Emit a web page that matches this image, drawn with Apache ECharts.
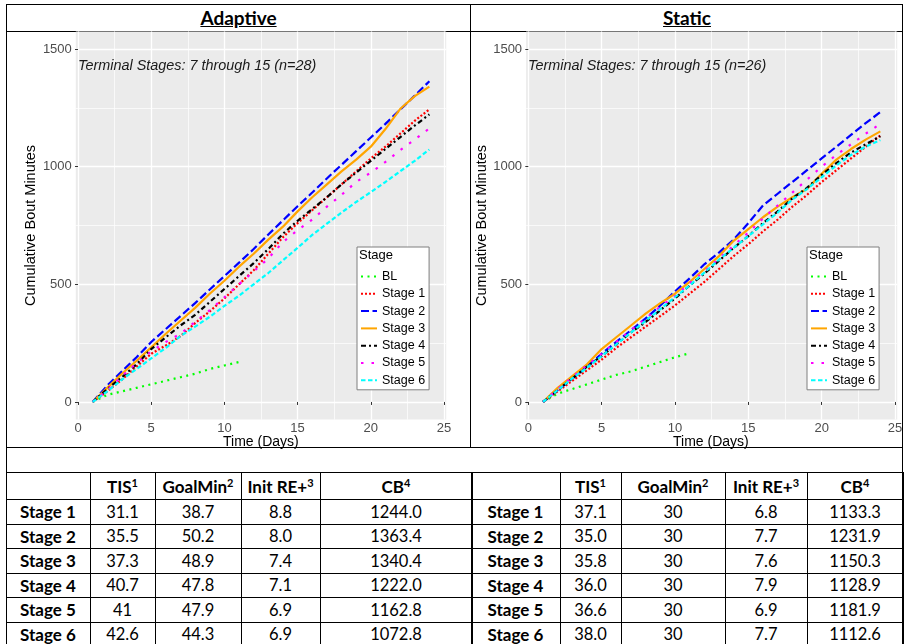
<!DOCTYPE html>
<html><head><meta charset="utf-8">
<script src="https://cdn.jsdelivr.net/npm/echarts@6/dist/echarts.min.js"></script>
<style>
html,body{margin:0;padding:0;background:#fff;}
#wrap{position:relative;width:904px;height:644px;overflow:hidden;background:#fff;}
.ln{position:absolute;background:#000;}
.hd{position:absolute;top:4px;height:27px;line-height:28px;text-align:center;font-family:Lato,'Liberation Sans',sans-serif;font-weight:bold;font-size:19px;text-decoration:underline;color:#000;}
#chart{position:absolute;left:0;top:0;width:904px;height:452px;}
table.tb{position:absolute;top:472px;border-collapse:collapse;table-layout:fixed;font-family:Lato,'Liberation Sans',sans-serif;color:#000;}
table.tb td{border:1.3px solid #000;text-align:center;padding:0;font-size:16.5px;white-space:nowrap;overflow:hidden;}
table.tb td.b{font-weight:bold;font-size:17px;}
table.tb sup{font-size:11px;line-height:0;vertical-align:6px;}
</style></head>
<body><div id="wrap">
<div class="ln" style="left:6px;top:4px;width:897px;height:1.3px"></div>
<div class="ln" style="left:6px;top:31px;width:897px;height:1.3px"></div>
<div class="ln" style="left:5.5px;top:4px;width:1.3px;height:640px"></div>
<div class="ln" style="left:902px;top:4px;width:1.3px;height:640px"></div>
<div class="ln" style="left:470px;top:4px;width:1.3px;height:443px"></div>
<div class="ln" style="left:6px;top:446.5px;width:897px;height:1.3px"></div>
<div class="hd" style="left:6px;width:465px">Adaptive</div>
<div class="hd" style="left:471px;width:432px">Static</div>
<div id="chart"></div>
<table class="tb" id="tA" style="left:5.5px;width:466px"></table>
<table class="tb" id="tS" style="left:470.5px;width:432.5px"></table>
</div>
<script>
// ---------- data ----------
const DAYS = [1,2,3,4,5,6,7,8,9,10,11,12,13,14,15,16,17,18,19,20,21,22,23,24];
const BL_DAYS = [1,2,3,4,5,6,7,8,9,10,11];
const STAGE_NAMES = ['BL','Stage 1','Stage 2','Stage 3','Stage 4','Stage 5','Stage 6'];

const A_BL = [0,30,45,60,75,90,105,120,140,155,170];
const A_S1 = [0,45,95,150,205,240,280,335,385,440,500,560,630,700,760,815,870,925,980,1035,1085,1140,1195,1244];
const A_S2 = [0,70,130,190,255,310,365,420,478,535,592,650,712,772,832,890,950,1008,1066,1124,1182,1242,1302,1363];
const A_S3 = [0,60,120,175,232,290,345,400,460,515,575,630,690,745,810,870,925,980,1030,1085,1160,1245,1300,1340];
const A_S4 = [0,55,105,160,225,275,325,370,425,480,535,590,650,715,770,820,870,925,975,1025,1075,1125,1175,1222];
const A_S5 = [0,50,110,165,215,255,290,340,390,445,500,555,610,680,730,775,830,880,935,975,1020,1070,1115,1163];
const A_S6 = [0,45,95,140,185,230,280,320,362,408,452,500,548,602,655,710,758,805,850,892,935,980,1025,1073];

const S_BL = [0,35,55,75,95,115,130,150,170,190,207];
const S_S1 = [0,45,90,135,180,230,275,320,365,410,460,510,565,620,670,725,775,830,880,935,985,1035,1085,1133];
const S_S2 = [0,50,100,150,205,255,305,355,410,470,525,585,635,690,760,835,885,935,985,1035,1085,1135,1185,1232];
const S_S3 = [0,60,110,160,225,275,325,375,420,460,510,565,620,685,735,785,830,870,905,970,1030,1075,1115,1150];
const S_S4 = [0,50,100,150,195,245,295,340,390,440,495,545,600,655,705,760,810,865,910,965,1015,1060,1095,1129];
const S_S5 = [0,55,105,155,205,255,305,355,405,450,505,555,610,665,720,780,835,890,945,1000,1050,1095,1140,1182];
const S_S6 = [0,50,100,145,195,245,295,345,395,445,495,550,605,655,705,755,805,860,905,955,1005,1050,1085,1113];

const X_TICKS = [0,5,10,15,20,25];
const X_MINOR = [2.5,7.5,12.5,17.5,22.5];
const Y_TICKS = [0,500,1000,1500];
const Y_MINOR = [250,750,1250];

const ANNOT_A = 'Terminal Stages: 7 through 15 (n=28)';
const ANNOT_S = 'Terminal Stages: 7 through 15 (n=26)';
const X_TITLE = 'Time (Days)';
const Y_TITLE = 'Cumulative Bout Minutes';

// table data
const TBL_HEAD = ['TIS','GoalMin','Init RE+','CB'];
const TBL_SUP = ['1','2','3','4'];
const TBL_ROWS = ['Stage 1','Stage 2','Stage 3','Stage 4','Stage 5','Stage 6'];
const A_TIS = ['31.1','35.5','37.3','40.7','41','42.6'];
const A_GOAL = ['38.7','50.2','48.9','47.8','47.9','44.3'];
const A_INIT = ['8.8','8.0','7.4','7.1','6.9','6.9'];
const A_CB = ['1244.0','1363.4','1340.4','1222.0','1162.8','1072.8'];
const S_TIS = ['37.1','35.0','35.8','36.0','36.6','38.0'];
const S_GOAL = ['30','30','30','30','30','30'];
const S_INIT = ['6.8','7.7','7.6','7.9','6.9','7.7'];
const S_CB = ['1133.3','1231.9','1150.3','1128.9','1181.9','1112.6'];

// ---------- tables ----------
function buildTable(id, widths, cols){
  const t = document.getElementById(id);
  let h = '<colgroup>' + widths.map(w=>'<col style="width:'+w+'px">').join('') + '</colgroup>';
  h += '<tr style="height:27px"><td></td>' + TBL_HEAD.map((s,i)=>'<td class="b">'+s+'<sup>'+TBL_SUP[i]+'</sup></td>').join('') + '</tr>';
  TBL_ROWS.forEach((r,i)=>{
    h += '<tr style="height:24.5px"><td class="b">'+r+'</td>' + cols.map(c=>'<td>'+c[i]+'</td>').join('') + '</tr>';
  });
  t.innerHTML = h;
}
buildTable('tA',[84,65,86,79,152],[A_TIS,A_GOAL,A_INIT,A_CB]);
buildTable('tS',[89,61,104,82,96],[S_TIS,S_GOAL,S_INIT,S_CB]);

// ---------- chart ----------
const STYLES = {
  'BL':     {color:'#00ff00', type:[2,4.5]},
  'Stage 1':{color:'#ff0000', type:[2,2]},
  'Stage 2':{color:'#0000ff', type:[8,3.5]},
  'Stage 3':{color:'#ffa500', type:'solid'},
  'Stage 4':{color:'#000000', type:[5,3,2,3]},
  'Stage 5':{color:'#ff00ff', type:[2.5,8]},
  'Stage 6':{color:'#00ffff', type:[4.5,2.5]}
};
const FONT = "'Liberation Sans', Arial, sans-serif";
const PANEL = '#ebebeb';
const GRIDC = '#ffffff';

function minorGrid(){
  return {
    symbol:['none','none'], label:{show:false}, silent:true, z:1,
    lineStyle:{color:GRIDC, width:0.7, type:'solid'},
    data: X_MINOR.map(v=>({xAxis:v})).concat(Y_MINOR.map(v=>({yAxis:v})))
  };
}
function lineSeries(name, xs, vals, gi){
  const st = STYLES[name];
  const s = {
    name, type:'line', xAxisIndex:gi, yAxisIndex:gi, z:3,
    data: vals.map((v,i)=>[xs[i], v]),
    symbol:'none', showSymbol:false, smooth:false,
    lineStyle:{color:st.color, width:2.2, type:st.type, cap:'butt'},
    itemStyle:{color:st.color},
    silent:true
  };
  if (name === 'BL') s.markLine = minorGrid();
  return s;
}
function xAxis(gi){
  return {
    type:'value', gridIndex:gi, min:-0.15, max:25.15,
    axisLine:{show:false},
    splitLine:{show:true, lineStyle:{color:GRIDC, width:1.3}},
    axisTick:{show:true, length:3, lineStyle:{color:'#333', width:1}, customValues:X_TICKS},
    axisLabel:{fontFamily:FONT, fontSize:13, color:'#4d4d4d', margin:2, customValues:X_TICKS, formatter:v=>String(v)}
  };
}
function yAxis(gi){
  return {
    type:'value', gridIndex:gi, min:-75, max:1575,
    name:Y_TITLE, nameLocation:'middle', nameGap:33,
    nameTextStyle:{fontFamily:FONT, fontSize:14.5, color:'#000'},
    axisLine:{show:false},
    splitLine:{show:true, lineStyle:{color:GRIDC, width:1.3}},
    axisTick:{show:true, length:3, lineStyle:{color:'#333', width:1}, customValues:Y_TICKS},
    axisLabel:{fontFamily:FONT, fontSize:13, color:'#4d4d4d', margin:4, customValues:Y_TICKS, formatter:v=>String(v)}
  };
}
function legend(left){
  return {
    left, top:247, orient:'vertical', data:STAGE_NAMES,
    padding:[23,4,3,3], itemWidth:16, itemHeight:14, itemGap:4.3,
    backgroundColor:'#ffffff', borderColor:'#7f7f7f', borderWidth:1,
    itemStyle:{opacity:0},
    textStyle:{fontFamily:FONT, fontSize:12.5, color:'#000'},
    selectedMode:false
  };
}
const chart = echarts.init(document.getElementById('chart'), null, {renderer:'canvas'});
const series = [];
[['BL',A_BL,S_BL],['Stage 1',A_S1,S_S1],['Stage 2',A_S2,S_S2],['Stage 3',A_S3,S_S3],['Stage 4',A_S4,S_S4],['Stage 5',A_S5,S_S5],['Stage 6',A_S6,S_S6]].forEach(([n,a,s])=>{
  const xs = n==='BL' ? BL_DAYS : DAYS;
  series.push(lineSeries(n, xs, a, 0));
  series.push(lineSeries(n, xs, s, 1));
});
const titleStyle = {fontFamily:FONT, fontSize:14, fontWeight:'normal', color:'#000'};
chart.setOption({
  animation:false,
  backgroundColor:'transparent',
  grid:[
    {left:75.8, top:31.4, width:370.4, height:388.2, show:true, backgroundColor:PANEL, borderWidth:0, outerBoundsMode:'none'},
    {left:526.1, top:31.4, width:371.1, height:388.2, show:true, backgroundColor:PANEL, borderWidth:0, outerBoundsMode:'none'}
  ],
  xAxis:[xAxis(0), xAxis(1)],
  yAxis:[yAxis(0), yAxis(1)],
  title:[
    {text:ANNOT_A, left:78, top:59, padding:0, textStyle:{fontFamily:FONT, fontSize:14.4, fontStyle:'italic', fontWeight:'normal', color:'#1a1a1a'}},
    {text:ANNOT_S, left:528, top:59, padding:0, textStyle:{fontFamily:FONT, fontSize:14.4, fontStyle:'italic', fontWeight:'normal', color:'#1a1a1a'}},
    {text:'Stage', left:359, top:249, padding:0, textStyle:{fontFamily:FONT, fontSize:13, fontWeight:'normal', color:'#000'}},
    {text:'Stage', left:809, top:249, padding:0, textStyle:{fontFamily:FONT, fontSize:13, fontWeight:'normal', color:'#000'}},
    {text:X_TITLE, left:223, top:435, padding:0, textStyle:titleStyle},
    {text:X_TITLE, left:673, top:435, padding:0, textStyle:titleStyle}
  ],
  legend:[legend(357), legend(807)],
  tooltip:{show:false},
  series
});
</script>
</body></html>
